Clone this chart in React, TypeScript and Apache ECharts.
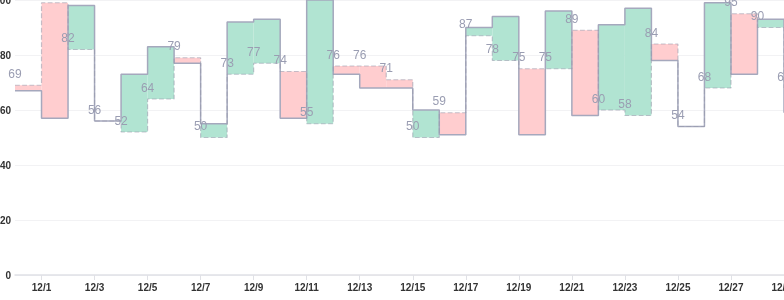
import React, { useEffect, useRef } from "react";
import * as echarts from "echarts";

const dates = [
  "11/30", "12/1", "12/2", "12/3", "12/4", "12/5", "12/6", "12/7", "12/8", "12/9",
  "12/10", "12/11", "12/12", "12/13", "12/14", "12/15", "12/16", "12/17", "12/18", "12/19",
  "12/20", "12/21", "12/22", "12/23", "12/24", "12/25", "12/26", "12/27", "12/28", "12/29",
];
const actual = [67, 57, 98, 56, 73, 83, 77, 55, 92, 93, 57, 100, 73, 68, 68, 60, 51, 90, 94, 51, 96, 58, 91, 97, 78, 54, 99, 73, 93, 59];
const target = [69, 99, 82, 56, 52, 64, 79, 50, 73, 77, 74, 55, 76, 76, 71, 50, 59, 87, 78, 75, 75, 89, 60, 58, 84, 54, 68, 95, 90, 68];

const PINK = "#ffcdcf";
const GREEN = "#b1e4d2";

export default function App() {
  const ref = useRef<HTMLDivElement>(null);
  useEffect(() => {
    const chart = echarts.init(ref.current!, undefined, { renderer: "svg" });
    const bandData = [];
    for (let i = 0; i < dates.length - 1; i++) {
      bandData.push([i, target[i], actual[i]]);
    }
    chart.setOption({
      animation: false,
      grid: { left: 15, right: 0, top: 0, bottom: 25, containLabel: false, outerBoundsMode: "none" },
      xAxis: {
        type: "category",
        data: dates,
        boundaryGap: false,
        axisLine: { lineStyle: { color: "#e0e1e6", width: 1.5 } },
        axisTick: {
          length: 5,
          interval: (idx: number) => idx % 2 === 1,
          lineStyle: { color: "#e0e1e6" },
        },
        axisLabel: {
          interval: (idx: number) => idx % 2 === 1,
          fontFamily: "Liberation Sans",
          fontWeight: "bold",
          fontSize: 10,
          color: "#333",
          margin: 7,
          hideOverlap: false,
        },
        splitLine: { show: false },
      },
      yAxis: {
        type: "value",
        min: 0,
        max: 100,
        interval: 20,
        axisLine: { show: false },
        axisTick: { show: false },
        axisLabel: {
          fontFamily: "Liberation Sans",
          fontWeight: "bold",
          fontSize: 10,
          color: "#333",
          margin: 4,
        },
        splitLine: { lineStyle: { color: "#f2f2f4" } },
      },
      series: [
        {
          type: "custom",
          z: 1,
          data: bandData,
          encode: { x: 0, y: [1, 2] },
          renderItem: (params: any, api: any) => {
            const i = api.value(0);
            const a = api.value(1);
            const b = api.value(2);
            const p1 = api.coord([i, Math.max(a, b)]);
            const p2 = api.coord([i + 1, Math.min(a, b)]);
            return {
              type: "rect",
              shape: { x: p1[0], y: p1[1], width: p2[0] - p1[0], height: p2[1] - p1[1] },
              style: { fill: a > b ? PINK : GREEN },
            };
          },
        },
        {
          type: "line",
          z: 3,
          step: "end",
          data: actual,
          symbol: "none",
          lineStyle: { color: "#a5a8bd", width: 1.5 },
        },
        {
          type: "line",
          z: 4,
          step: "end",
          data: target,
          symbol: "circle",
          symbolSize: 1,
          itemStyle: { color: "rgba(0,0,0,0)", borderColor: "rgba(0,0,0,0)", borderWidth: 0 },
          lineStyle: { color: "rgba(150,152,170,0.55)", width: 1.2, type: "dashed" },
          label: {
            show: true,
            position: "top",
            color: "#9a9db2",
            fontSize: 12,
            distance: 5,
          },
        },
      ],
    });
    return () => chart.dispose();
  }, []);
  return (
    <div
      ref={ref}
      style={{ position: "fixed", left: 0, top: 0, width: 784, height: 300 }}
    />
  );
}
